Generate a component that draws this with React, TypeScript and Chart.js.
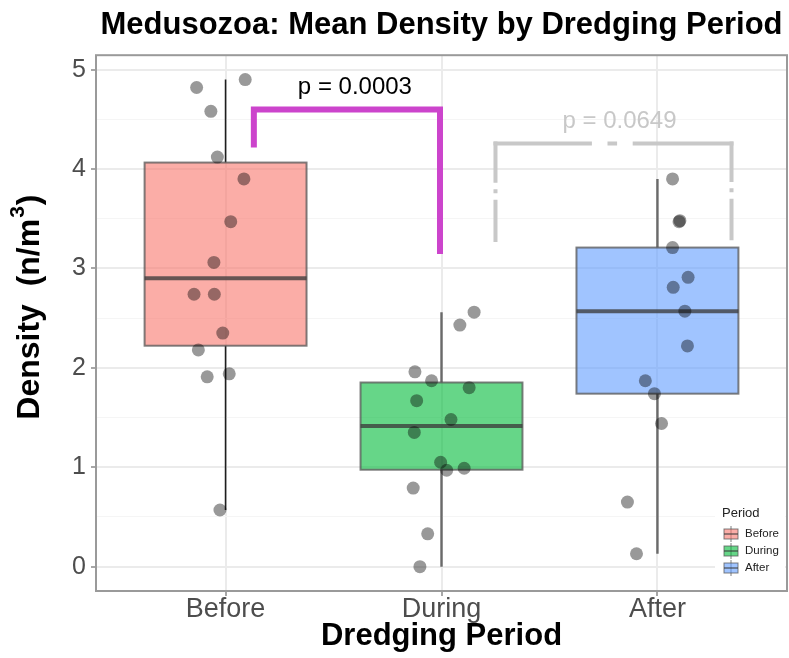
import React, { useEffect, useRef } from "react";
import { Chart, registerables } from "chart.js";

Chart.register(...registerables);

// ---------- data ----------
const categories = ["Before", "During", "After"];
const legendTitle = "Period";
const chartTitle = "Medusozoa: Mean Density by Dredging Period";
const xAxisTitle = "Dredging Period";
const yAxisTitleMain = "Density  (n/m";
const yAxisTitleSup = "3";
const yAxisTitleEnd = ")";

const beforeValues = [4.82, 4.9, 4.58, 4.12, 3.9, 3.47, 3.06, 2.74, 2.74, 2.35, 2.18, 1.91, 1.94, 0.57];
const beforeJitterX = [0.866, 1.091, 0.932, 0.962, 1.085, 1.024, 0.946, 0.854, 0.948, 0.987, 0.874, 0.915, 1.017, 0.974];

const duringValues = [2.56, 2.43, 1.96, 1.87, 1.8, 1.67, 1.48, 1.35, 1.05, 0.97, 0.99, 0.79, 0.33, 0.0];
const duringJitterX = [2.151, 2.085, 1.877, 1.954, 2.128, 1.885, 2.044, 1.874, 1.996, 2.024, 2.105, 1.869, 1.936, 1.9];

const afterValues = [3.9, 3.48, 3.47, 3.21, 2.91, 2.81, 2.57, 2.22, 1.87, 1.74, 1.44, 0.65, 0.13];
const afterJitterX = [3.07, 3.104, 3.1, 3.07, 3.142, 3.073, 3.127, 3.139, 2.944, 2.986, 3.019, 2.861, 2.903];

const yMajorTicks = [0, 1, 2, 3, 4, 5];
const yMinorTicks = [0.5, 1.5, 2.5, 3.5, 4.5];

// significance brackets: [xStart, xEnd, yTop, yLeftEnd, yRightEnd]
const sigLabels = ["p = 0.0003", "p = 0.0649"];
const sigXStart = [1.131, 2.25];
const sigXEnd = [1.993, 3.343];
const sigYTop = [4.6, 4.257];
const sigYLeftEnd = [4.217, 3.267];
const sigYRightEnd = [3.144, 3.284];

// ---------- styles ----------
const FONT = "'Liberation Sans', Arial, Helvetica, sans-serif";
const boxFill = ["rgba(248,118,109,0.6)", "rgba(0,186,56,0.6)", "rgba(97,156,255,0.6)"];
const whiskerColor = ["#1e1e1e", "#6a6a6a", "#6a6a6a"];
const whiskerWidth = [1.6, 2.4, 2.4];

function quantile(sorted: number[], p: number) {
  const pos = (sorted.length - 1) * p;
  const lo = Math.floor(pos);
  const hi = Math.ceil(pos);
  return sorted[lo] + (sorted[hi] - sorted[lo]) * (pos - lo);
}

function boxStats(vals: number[]) {
  const s = [...vals].sort((a, b) => a - b);
  const q1 = quantile(s, 0.25);
  const med = quantile(s, 0.5);
  const q3 = quantile(s, 0.75);
  const iqr = q3 - q1;
  const lo = s.filter((v) => v >= q1 - 1.5 * iqr)[0];
  const hiArr = s.filter((v) => v <= q3 + 1.5 * iqr);
  const hi = hiArr[hiArr.length - 1];
  return { q1, med, q3, lo, hi };
}

const groups = [beforeValues, duringValues, afterValues];
const jitters = [beforeJitterX, duringJitterX, afterJitterX];

const boxPlugin = {
  id: "boxes",
  beforeDatasetsDraw(chart: any) {
    const { ctx, scales } = chart;
    const xs = scales.x;
    const ys = scales.y;
    groups.forEach((vals, i) => {
      const st = boxStats(vals);
      const cx = xs.getPixelForValue(i + 1);
      const x0 = xs.getPixelForValue(i + 1 - 0.375);
      const x1 = xs.getPixelForValue(i + 1 + 0.375);
      const yq1 = ys.getPixelForValue(st.q1);
      const yq3 = ys.getPixelForValue(st.q3);
      const ymed = ys.getPixelForValue(st.med);
      ctx.save();
      ctx.strokeStyle = whiskerColor[i];
      ctx.lineWidth = whiskerWidth[i];
      ctx.beginPath();
      ctx.moveTo(cx, yq3);
      ctx.lineTo(cx, ys.getPixelForValue(st.hi));
      ctx.moveTo(cx, yq1);
      ctx.lineTo(cx, ys.getPixelForValue(st.lo));
      ctx.stroke();
      ctx.fillStyle = boxFill[i];
      ctx.fillRect(x0, yq3, x1 - x0, yq1 - yq3);
      ctx.strokeStyle = "rgba(85,85,85,0.75)";
      ctx.lineWidth = 2;
      ctx.strokeRect(x0, yq3, x1 - x0, yq1 - yq3);
      ctx.strokeStyle = "rgba(60,60,60,0.78)";
      ctx.lineWidth = 4;
      ctx.beginPath();
      ctx.moveTo(x0, ymed);
      ctx.lineTo(x1, ymed);
      ctx.stroke();
      ctx.restore();
    });
  },
};

const bracketPlugin = {
  id: "brackets",
  afterDatasetsDraw(chart: any) {
    const { ctx, scales } = chart;
    const xs = scales.x;
    const ys = scales.y;
    ctx.save();
    {
      const xl = xs.getPixelForValue(sigXStart[0]);
      const xr = xs.getPixelForValue(sigXEnd[0]);
      const yt = ys.getPixelForValue(sigYTop[0]);
      ctx.strokeStyle = "#cc44cc";
      ctx.lineWidth = 6;
      ctx.lineJoin = "miter";
      ctx.lineCap = "butt";
      ctx.beginPath();
      ctx.moveTo(xl, ys.getPixelForValue(sigYLeftEnd[0]));
      ctx.lineTo(xl, yt);
      ctx.lineTo(xr, yt);
      ctx.lineTo(xr, ys.getPixelForValue(sigYRightEnd[0]));
      ctx.stroke();
      ctx.fillStyle = "#000000";
      ctx.font = `24px ${FONT}`;
      ctx.textAlign = "center";
      ctx.textBaseline = "middle";
      ctx.fillText(sigLabels[0], (xl + xr) / 2 + 8, yt - 22);
    }
    {
      const xl = xs.getPixelForValue(sigXStart[1]);
      const xr = xs.getPixelForValue(sigXEnd[1]);
      const yt = ys.getPixelForValue(sigYTop[1]);
      const ylb = ys.getPixelForValue(sigYLeftEnd[1]);
      const yrb = ys.getPixelForValue(sigYRightEnd[1]);
      ctx.strokeStyle = "#c8c8c8";
      ctx.lineWidth = 4;
      ctx.lineCap = "butt";
      const seg = (ax: number, ay: number, bx: number, by: number) => {
        const len = Math.hypot(bx - ax, by - ay);
        const d = len * 0.41;
        const g = len * 0.065;
        const dot = Math.max(2, len * 0.04);
        ctx.setLineDash([d, g, dot, g, len]);
        ctx.beginPath();
        ctx.moveTo(ax, ay);
        ctx.lineTo(bx, by);
        ctx.stroke();
      };
      seg(xl, yt - 2, xl, ylb);
      seg(xl - 2, yt, xr + 2, yt);
      seg(xr, yt - 2, xr, yrb);
      ctx.setLineDash([]);
      ctx.fillStyle = "#c8c8c8";
      ctx.font = `24px ${FONT}`;
      ctx.textAlign = "center";
      ctx.textBaseline = "middle";
      ctx.fillText(sigLabels[1], (xl + xr) / 2 + 6, yt - 22);
    }
    ctx.restore();
  },
};

const framePlugin = {
  id: "frame",
  afterDraw(chart: any) {
    const { ctx, chartArea: a } = chart;
    ctx.save();
    // y-axis title with superscript
    {
      const big = `bold 32px ${FONT}`;
      const small = `bold 21px ${FONT}`;
      ctx.font = big;
      const w1 = ctx.measureText(yAxisTitleMain).width;
      const w3 = ctx.measureText(yAxisTitleEnd).width;
      ctx.font = small;
      const w2 = ctx.measureText(yAxisTitleSup).width;
      const total = w1 + w2 + w3 + 2;
      ctx.translate(30, (a.top + a.bottom) / 2 - 16);
      ctx.rotate(-Math.PI / 2);
      ctx.fillStyle = "#000";
      ctx.textAlign = "left";
      ctx.textBaseline = "middle";
      let x = -total / 2;
      ctx.font = big;
      ctx.fillText(yAxisTitleMain, x, 0);
      x += w1 + 1;
      ctx.font = small;
      ctx.fillText(yAxisTitleSup, x, -12);
      x += w2 + 1;
      ctx.font = big;
      ctx.fillText(yAxisTitleEnd, x, 0);
      ctx.setTransform(1, 0, 0, 1, 0, 0);
    }
    // legend box
    const lx = a.right - 72;
    const ly = a.bottom - 94;
    ctx.fillStyle = "#ffffff";
    ctx.fillRect(lx, ly, 70, 86);
    ctx.fillStyle = "#222";
    ctx.font = `13px ${FONT}`;
    ctx.textAlign = "left";
    ctx.textBaseline = "middle";
    ctx.fillText(legendTitle, lx + 7, ly + 16);
    categories.forEach((c, i) => {
      const cy = ly + 37 + i * 17;
      const kx = lx + 8;
      ctx.strokeStyle = "rgba(85,85,85,0.75)";
      ctx.lineWidth = 1;
      ctx.beginPath();
      ctx.moveTo(kx + 8, cy - 8);
      ctx.lineTo(kx + 8, cy + 8);
      ctx.stroke();
      ctx.fillStyle = boxFill[i];
      ctx.fillRect(kx + 1, cy - 5, 14, 10);
      ctx.strokeRect(kx + 1, cy - 5, 14, 10);
      ctx.strokeStyle = "rgba(60,60,60,0.7)";
      ctx.lineWidth = 1.5;
      ctx.beginPath();
      ctx.moveTo(kx + 1, cy);
      ctx.lineTo(kx + 15, cy);
      ctx.stroke();
      ctx.fillStyle = "#222";
      ctx.font = `11.5px ${FONT}`;
      ctx.fillText(c, kx + 22, cy);
    });
    // panel border
    ctx.strokeStyle = "#9a9a9a";
    ctx.lineWidth = 2;
    ctx.strokeRect(a.left, a.top, a.right - a.left, a.bottom - a.top);
    ctx.restore();
  },
};

export default function App() {
  const ref = useRef<HTMLCanvasElement | null>(null);
  useEffect(() => {
    if (!ref.current) return;
    Chart.defaults.font.family = FONT;
    const points: { x: number; y: number }[] = [];
    groups.forEach((vals, i) => vals.forEach((v, j) => points.push({ x: jitters[i][j], y: v })));
    const chart = new Chart(ref.current, {
      type: "scatter",
      data: {
        datasets: [
          {
            data: points,
            pointRadius: 6.5,
            pointHoverRadius: 6.5,
            backgroundColor: "rgba(0,0,0,0.4)",
            borderWidth: 0,
          },
        ],
      },
      options: {
        animation: false,
        responsive: false,
        devicePixelRatio: 1,
        events: [],
        layout: { autoPadding: false, padding: { left: 0, right: 2, top: 0, bottom: 0 } },
        plugins: {
          legend: { display: false },
          tooltip: { enabled: false },
          title: {
            display: true,
            text: chartTitle,
            fullSize: false,
            color: "#000",
            font: { size: 31, weight: "bold", family: FONT },
            padding: { top: 7, bottom: 11 },
          },
        },
        scales: {
          x: {
            type: "linear",
            min: 0.4,
            max: 3.6,
            afterBuildTicks: (s: any) => {
              s.ticks = categories.map((_, i) => ({ value: i + 1 }));
            },
            afterFit: (s: any) => {
              s.height = 67;
              s.paddingLeft = 0;
              s.paddingRight = 0;
            },
            ticks: {
              autoSkip: false,
              maxRotation: 0,
              padding: 0,
              color: "#4d4d4d",
              font: { size: 27, lineHeight: 1, family: FONT },
              callback: (v: any) => categories[Math.round(Number(v)) - 1] ?? "",
            },
            grid: {
              color: "#ebebeb",
              lineWidth: 2,
              tickLength: 5,
              tickColor: "#8a8a8a",
              tickWidth: 1.5,
            },
            border: { display: false },
            title: {
              display: true,
              text: xAxisTitle,
              color: "#000",
              font: { size: 31, weight: "bold", family: FONT },
              padding: { top: 0, bottom: 3 },
            },
          },
          y: {
            type: "linear",
            min: -0.245,
            max: 5.145,
            afterBuildTicks: (s: any) => {
              s.ticks = [...yMajorTicks, ...yMinorTicks].sort((a, b) => a - b).map((v) => ({ value: v }));
            },
            afterFit: (s: any) => {
              s.width = 96;
              s.paddingTop = 0;
              s.paddingBottom = 0;
            },
            ticks: {
              padding: 5,
              color: "#4d4d4d",
              font: { size: 25, lineHeight: 1, family: FONT },
              callback: (v: any) => (yMajorTicks.includes(Number(v)) ? String(v) : ""),
            },
            grid: {
              color: (c: any) => (yMajorTicks.includes(c.tick?.value) ? "#ebebeb" : "#f5f5f5"),
              lineWidth: (c: any) => (yMajorTicks.includes(c.tick?.value) ? 2 : 1),
              tickLength: 5,
              tickColor: (c: any) => (yMajorTicks.includes(c.tick?.value) ? "#8a8a8a" : "rgba(0,0,0,0)"),
              tickWidth: 1.5,
            },
            border: { display: false },
            title: { display: false },
          },
        },
      },
      plugins: [boxPlugin, bracketPlugin, framePlugin],
    } as any);
    return () => chart.destroy();
  }, []);
  return (
    <div style={{ position: "fixed", left: 0, top: 0, width: 789, height: 658, background: "#fff" }}>
      <canvas ref={ref} width={789} height={658} style={{ display: "block" }} />
    </div>
  );
}
